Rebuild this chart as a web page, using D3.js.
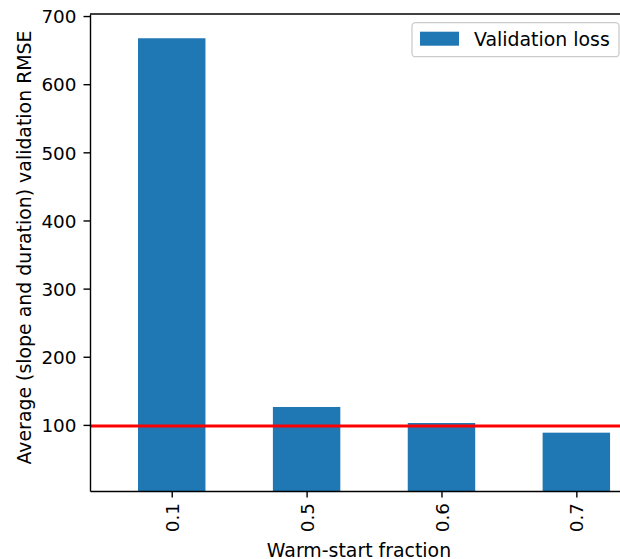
<!DOCTYPE html>
<html>
<head>
<meta charset="utf-8">
<script src="https://cdn.jsdelivr.net/npm/d3@7"></script>
<style>
  body { margin: 0; background: #fff; }
  svg { display: block; font-family: "DejaVu Sans", sans-serif; }
  .axis text { font-family: "DejaVu Sans", sans-serif; font-size: 18.4px; fill: #000; }
  .axis path, .axis line { stroke: #000; stroke-width: 1.4; }
</style>
</head>
<body>
<svg id="chart" width="620" height="559"></svg>
<script>
// data
var fractions = ["0.1", "0.5", "0.6", "0.7"];
var losses = [667.4, 126.3, 102.8, 88.6];
var baseline = 98.4;
var yTicks = [100, 200, 300, 400, 500, 600, 700];
var seriesName = "Validation loss";

var svg = d3.select("#chart");
var plotL = 90, plotR = 628, plotT = 14, plotB = 491;

var x = d3.scaleLinear().domain([-0.606, 3.383]).range([plotL, plotR]);
var y = d3.scaleLinear().domain([3, 703]).range([plotB, plotT]);

// bars
svg.append("g")
  .selectAll("rect")
  .data(losses)
  .enter()
  .append("rect")
  .attr("x", function(d, i){ return x(i - 0.25); })
  .attr("width", function(d, i){ return x(i + 0.25) - x(i - 0.25); })
  .attr("y", function(d){ return y(d); })
  .attr("height", function(d){ return y(3) - y(d); })
  .attr("fill", "#1f77b4");

// red reference line
svg.append("line")
  .attr("x1", plotL)
  .attr("x2", plotR)
  .attr("y1", y(baseline))
  .attr("y2", y(baseline))
  .attr("stroke", "#ff0000")
  .attr("stroke-width", 2.8);

// y axis
var yAxis = svg.append("g")
  .attr("class", "axis")
  .attr("transform", "translate(" + plotL + ",0)")
  .call(d3.axisLeft(y).tickValues(yTicks).tickSize(6.5).tickPadding(7).tickSizeOuter(0));
yAxis.selectAll("text").attr("dy", "0.37em");

// x axis
var xAxis = svg.append("g")
  .attr("class", "axis")
  .attr("transform", "translate(0," + plotB + ")")
  .call(d3.axisBottom(x).tickValues(d3.range(fractions.length))
    .tickFormat(function(i){ return fractions[i]; })
    .tickSize(6.5).tickSizeOuter(0));
xAxis.selectAll("text")
  .attr("transform", "rotate(-90)")
  .attr("text-anchor", "end")
  .attr("x", -12)
  .attr("y", 0)
  .attr("dy", "0.36em");

// top spine
svg.append("line")
  .attr("x1", plotL).attr("x2", plotR)
  .attr("y1", plotT).attr("y2", plotT)
  .attr("stroke", "#000").attr("stroke-width", 1.4);

// axis labels
svg.append("text")
  .attr("transform", "translate(31," + ((plotT + plotB) / 2 - 5) + ") rotate(-90)")
  .attr("text-anchor", "middle")
  .style("font-size", "18.9px")
  .text("Average (slope and duration) validation RMSE");

svg.append("text")
  .attr("x", (plotL + plotR) / 2)
  .attr("y", 556.5)
  .attr("text-anchor", "middle")
  .style("font-size", "18.9px")
  .text("Warm-start fraction");

// legend
var lg = svg.append("g").attr("transform", "translate(412,22.7)");
lg.append("rect")
  .attr("width", 207).attr("height", 34)
  .attr("rx", 3.5)
  .attr("fill", "#fff").attr("fill-opacity", 0.8)
  .attr("stroke", "#cccccc").attr("stroke-width", 1.3);
lg.append("rect")
  .attr("x", 8).attr("y", 9)
  .attr("width", 39).attr("height", 14)
  .attr("fill", "#1f77b4");
lg.append("text")
  .attr("x", 62).attr("y", 23)
  .style("font-size", "18.9px")
  .text(seriesName);
</script>
</body>
</html>
